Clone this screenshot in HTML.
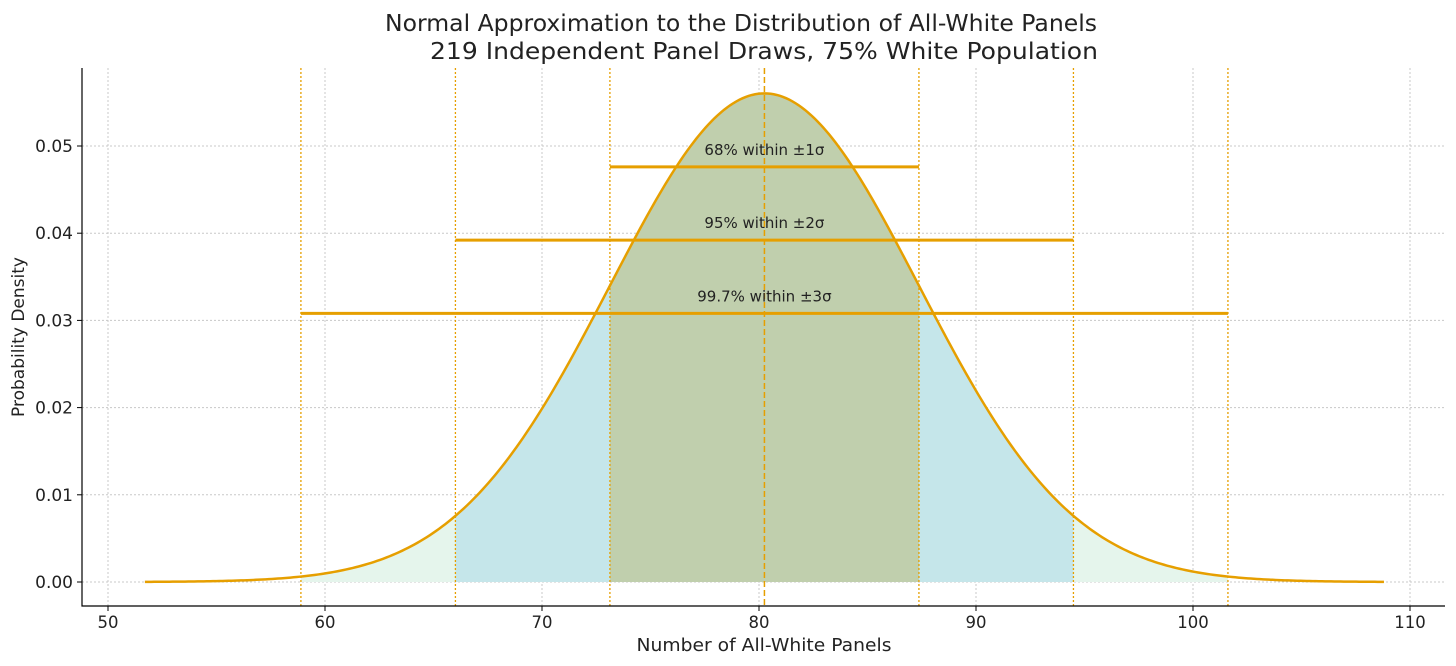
<!DOCTYPE html>
<html><head><meta charset="utf-8"><style>
html,body{margin:0;padding:0;background:#fff;}
svg{display:block;font-family:"DejaVu Sans","Liberation Sans",sans-serif;}
</style></head><body>
<svg id="chart" width="1456" height="666" viewBox="0 0 1456 666" xmlns="http://www.w3.org/2000/svg">
<text x="741" y="31" text-anchor="middle" font-size="23.5" textLength="712" lengthAdjust="spacingAndGlyphs" fill="#222">Normal Approximation to the Distribution of All-White Panels</text>
<text x="764" y="59" text-anchor="middle" font-size="23.5" textLength="668" lengthAdjust="spacingAndGlyphs" fill="#222">219 Independent Panel Draws, 75% White Population</text>
<text x="764" y="651" text-anchor="middle" font-size="17.5" textLength="255" lengthAdjust="spacingAndGlyphs" fill="#222">Number of All-White Panels</text>
<text transform="translate(24,337) rotate(-90)" text-anchor="middle" font-size="17" fill="#222">Probability Density</text>
<g id="plot"></g>
</svg>
<script>
const distParams = [80.25, 7.12];
const curveRange = [51.7, 108.8];
const bandSigmas = [3, 2, 1];
const bandLabels = ["99.7% within ±3σ", "95% within ±2σ", "68% within ±1σ"];
const bandHeights = [0.0308, 0.0392, 0.0476];
const xTicks = [50, 60, 70, 80, 90, 100, 110];
const yTicks = [0, 0.01, 0.02, 0.03, 0.04, 0.05];
const yTickLabels = ["0.00", "0.01", "0.02", "0.03", "0.04", "0.05"];

const NS = "http://www.w3.org/2000/svg";
const L = 82, R = 1445, T = 68, B = 606;
const xs = v => 108 + (v - 50) * (1410 - 108) / 60;
const ys = v => 582 - v * (582 - 146) / 0.05;
const mu = distParams[0], sd = distParams[1];
const pdf = x => Math.exp(-0.5 * ((x - mu) / sd) ** 2) / (sd * Math.sqrt(2 * Math.PI));
const g = document.getElementById('plot');
function mk(tag, attrs, parent) {
  const e = document.createElementNS(NS, tag);
  for (const k in attrs) e.setAttribute(k, attrs[k]);
  (parent || g).appendChild(e);
  return e;
}
xTicks.forEach(t => {
  const l = mk('line', {x1: xs(t), x2: xs(t), y1: T, y2: B, stroke: '#c8c8c8', 'stroke-dasharray': '2,2', 'stroke-width': 1});
  
  
});
yTicks.forEach(t => {
  const l = mk('line', {x1: L, x2: R, y1: ys(t), y2: ys(t), stroke: '#c8c8c8', 'stroke-dasharray': '2,2', 'stroke-width': 1});
  
  
});
const fillColors = ['#e5f5ec', '#c5e6ea', '#c0cfad'];
function areaPath(a, b) {
  let d = 'M' + xs(a) + ',' + ys(0);
  const n = 200;
  for (let i = 0; i <= n; i++) { const x = a + (b - a) * i / n; d += 'L' + xs(x).toFixed(2) + ',' + ys(pdf(x)).toFixed(2); }
  return d + 'L' + xs(b) + ',' + ys(0) + 'Z';
}
bandSigmas.forEach((s, i) => {
  const p = mk('path', {d: areaPath(mu - s * sd, mu + s * sd), fill: fillColors[i]});
  
  
});
bandSigmas.forEach(s => {
  [-1, 1].forEach(sg => {
    const x = xs(mu + sg * s * sd);
    const l = mk('line', {x1: x, x2: x, y1: T, y2: B, stroke: '#e69f00', 'stroke-dasharray': '2,2', 'stroke-width': 1.3});
    
    
  });
});
const ml = mk('line', {x1: xs(mu), x2: xs(mu), y1: T, y2: B, stroke: '#e69f00', 'stroke-dasharray': '6,3', 'stroke-width': 1.5});


let d = '';
for (let i = 0; i <= 400; i++) {
  const x = curveRange[0] + (curveRange[1] - curveRange[0]) * i / 400;
  d += (i ? 'L' : 'M') + xs(x).toFixed(2) + ',' + ys(pdf(x)).toFixed(2);
}
const c = mk('path', {d: d, fill: 'none', stroke: '#e69f00', 'stroke-width': 2.5});


bandSigmas.forEach((s, i) => {
  const y = ys(bandHeights[i]);
  const l = mk('line', {x1: xs(mu - s * sd), x2: xs(mu + s * sd), y1: y, y2: y, stroke: '#e69f00', 'stroke-width': 3});
  
  
  const t = mk('text', {x: xs(mu), y: y - 12, 'text-anchor': 'middle', 'font-size': 15, fill: '#222'});
  t.textContent = bandLabels[i];
  
  
});
const ax = mk('path', {d: `M${L},${T}L${L},${B}L${R},${B}`, fill: 'none', stroke: '#000', 'stroke-width': 1.2});


xTicks.forEach(t => {
  const l = mk('line', {x1: xs(t), x2: xs(t), y1: B, y2: B + 5, stroke: '#000'});
  
  
  const tx = mk('text', {x: xs(t), y: B + 22, 'text-anchor': 'middle', 'font-size': 16.5, fill: '#222'});
  tx.textContent = t;
  
  
});
yTicks.forEach((t, i) => {
  const l = mk('line', {x1: L - 5, x2: L, y1: ys(t), y2: ys(t), stroke: '#000'});
  
  
  const tx = mk('text', {x: L - 9, y: ys(t) + 6, 'text-anchor': 'end', 'font-size': 17, fill: '#222'});
  tx.textContent = yTickLabels[i];
  
  
});
</script>
</body></html>
